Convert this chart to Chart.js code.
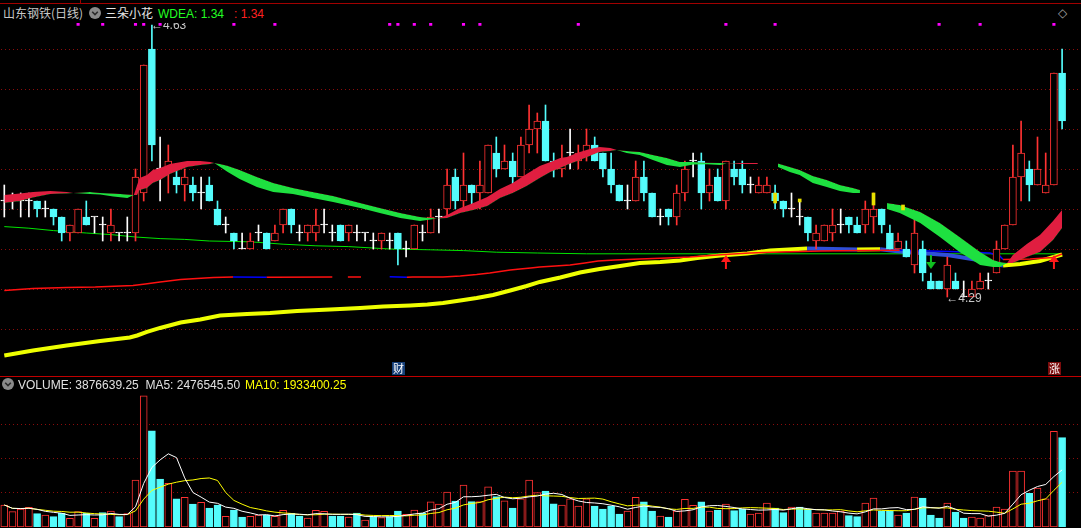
<!DOCTYPE html>
<html><head><meta charset="utf-8">
<script src="https://cdn.jsdelivr.net/npm/chart.js@4.4.0/dist/chart.umd.min.js"></script>
<style>
html,body{margin:0;padding:0;background:#000;width:1081px;height:528px;overflow:hidden;}
#wrap{position:relative;width:1081px;height:528px;background:#000;}
canvas{position:absolute;left:0;}
#pc{top:23px;}
#vc{top:377px;}
.t{position:absolute;font-family:"Liberation Sans",Arial,sans-serif;font-size:12px;white-space:pre;line-height:14px;}
.cjk{font-family:"Noto Sans CJK SC",sans-serif;}
.line{position:absolute;left:0;width:1081px;height:1px;}
.ico{position:absolute;width:12px;height:12px;}
</style></head><body>
<div id="wrap">
  <div class="line" style="top:3px;background:#a00000"></div>
  <div style="position:absolute;left:80px;top:0;width:1px;height:3px;background:#a00000"></div>
  <div class="t cjk" style="left:3px;top:6px;color:#c8c8c8">山东钢铁(日线)</div>
  <svg class="ico" style="left:89px;top:7px" viewBox="0 0 12 12"><circle cx="6" cy="6" r="6" fill="#8a8a8a"/><path d="M3.2 4.8 L6 7.6 L8.8 4.8" stroke="#2a2a2a" stroke-width="1.6" fill="none"/></svg>
  <div class="t cjk" style="left:105px;top:6px;color:#e6e6e6">三朵小花</div>
  <div class="t" style="left:158px;top:7px;color:#22ff22">WDEA: 1.34</div>
  <div class="t" style="left:234px;top:7px;color:#ff2020">: 1.34</div>
  <div class="t" style="left:1058px;top:6px;color:#a0a0a0">◇</div>
  <canvas id="pc" width="1081" height="353"></canvas>
  <div class="line" style="top:376px;background:#c00000"></div>
  <canvas id="vc" width="1081" height="151"></canvas>
  <svg class="ico" style="left:2px;top:378px" viewBox="0 0 12 12"><circle cx="6" cy="6" r="6" fill="#8a8a8a"/><path d="M3.2 4.8 L6 7.6 L8.8 4.8" stroke="#2a2a2a" stroke-width="1.6" fill="none"/></svg>
  <div class="t" style="left:18px;top:378px;color:#e0e0e0">VOLUME: 3876639.25  MA5: 2476545.50</div>
  <div class="t" style="left:245px;top:378px;color:#ffff00">MA10: 1933400.25</div>
</div>
<script>
// ---------------- DATA ----------------
const openP = [
4.41,4.41,4.41,4.41,4.41,4.40,4.40,4.39,4.37,4.37,
4.39,4.39,4.38,4.37,4.37,4.37,4.37,4.42,4.60,4.45,
4.45,4.44,4.43,4.43,4.42,4.43,4.40,4.38,4.37,4.35,
4.35,4.37,4.37,4.36,4.38,4.40,4.37,4.37,4.37,4.38,
4.37,4.38,4.37,4.37,4.37,4.36,4.36,4.36,4.37,4.35,
4.35,4.37,4.37,4.39,4.40,4.44,4.41,4.43,4.42,4.42,
4.47,4.45,4.46,4.44,4.48,4.50,4.51,4.46,4.45,4.47,
4.46,4.47,4.48,4.47,4.45,4.43,4.41,4.41,4.44,4.42,
4.39,4.40,4.39,4.42,4.46,4.46,4.42,4.44,4.41,4.45,
4.45,4.43,4.42,4.42,4.42,4.41,4.40,4.39,4.39,4.36,
4.36,4.37,4.38,4.39,4.38,4.38,4.39,4.40,4.37,4.35,
4.35,4.33,4.35,4.31,4.31,4.30,4.31,4.29,4.29,4.30,
4.31,4.32,4.35,4.38,4.44,4.45,4.43,4.42,4.43,4.57];
const highP = [
4.43,4.42,4.42,4.42,4.41,4.41,4.40,4.39,4.38,4.40,
4.41,4.39,4.39,4.40,4.37,4.39,4.45,4.58,4.63,4.49,
4.48,4.45,4.45,4.44,4.44,4.44,4.41,4.39,4.37,4.37,
4.37,4.38,4.37,4.38,4.40,4.40,4.38,4.38,4.40,4.40,
4.38,4.38,4.38,4.38,4.37,4.37,4.37,4.37,4.37,4.36,
4.38,4.38,4.40,4.40,4.45,4.45,4.47,4.43,4.46,4.48,
4.49,4.48,4.47,4.49,4.53,4.52,4.53,4.47,4.48,4.50,
4.48,4.50,4.49,4.47,4.47,4.43,4.43,4.46,4.46,4.42,
4.40,4.40,4.43,4.46,4.47,4.47,4.45,4.45,4.46,4.46,
4.46,4.44,4.44,4.44,4.43,4.41,4.42,4.41,4.39,4.38,
4.38,4.40,4.40,4.39,4.39,4.41,4.42,4.40,4.38,4.37,
4.36,4.39,4.36,4.32,4.31,4.34,4.32,4.31,4.31,4.32,
4.32,4.36,4.38,4.48,4.51,4.46,4.49,4.47,4.57,4.60];
const lowP = [
4.39,4.40,4.39,4.39,4.39,4.39,4.38,4.36,4.36,4.37,
4.38,4.37,4.36,4.36,4.36,4.36,4.36,4.41,4.46,4.41,
4.42,4.42,4.41,4.41,4.40,4.41,4.38,4.37,4.35,4.35,
4.35,4.36,4.35,4.36,4.37,4.37,4.36,4.36,4.36,4.37,
4.36,4.36,4.36,4.36,4.36,4.35,4.35,4.35,4.33,4.34,
4.35,4.36,4.37,4.37,4.39,4.40,4.40,4.40,4.40,4.42,
4.44,4.45,4.43,4.44,4.47,4.47,4.46,4.44,4.44,4.45,
4.45,4.46,4.46,4.44,4.42,4.41,4.40,4.41,4.41,4.39,
4.38,4.38,4.38,4.41,4.44,4.40,4.41,4.41,4.40,4.43,
4.42,4.42,4.42,4.42,4.40,4.39,4.39,4.38,4.36,4.35,
4.36,4.36,4.37,4.37,4.37,4.37,4.37,4.37,4.35,4.35,
4.34,4.32,4.31,4.30,4.30,4.29,4.30,4.29,4.29,4.30,
4.30,4.32,4.35,4.38,4.41,4.41,4.43,4.42,4.43,4.50];
const closeP = [
4.41,4.41,4.41,4.41,4.40,4.40,4.39,4.37,4.38,4.40,
4.38,4.39,4.38,4.38,4.37,4.37,4.44,4.58,4.48,4.45,
4.46,4.43,4.44,4.42,4.42,4.41,4.38,4.38,4.36,4.35,
4.36,4.37,4.35,4.37,4.40,4.38,4.37,4.38,4.38,4.38,
4.37,4.36,4.38,4.37,4.37,4.36,4.37,4.36,4.35,4.35,
4.38,4.37,4.39,4.39,4.43,4.41,4.43,4.42,4.43,4.48,
4.45,4.46,4.44,4.48,4.50,4.51,4.46,4.45,4.46,4.47,
4.47,4.48,4.46,4.45,4.43,4.41,4.41,4.44,4.42,4.39,
4.39,4.39,4.42,4.45,4.46,4.42,4.43,4.41,4.46,4.44,
4.43,4.43,4.43,4.43,4.41,4.40,4.40,4.39,4.37,4.37,
4.38,4.38,4.38,4.38,4.37,4.40,4.40,4.38,4.35,4.36,
4.34,4.37,4.32,4.30,4.30,4.33,4.30,4.29,4.30,4.31,
4.31,4.35,4.38,4.44,4.47,4.43,4.45,4.43,4.57,4.51];
const volume = [
955000,665000,781000,853000,579000,521000,448000,593000,376000,666000,
593000,376000,622000,694000,448000,579000,2040000,5690000,4170000,2080000,
1900000,1220000,1290000,1000000,1070000,825000,955000,463000,738000,434000,
463000,521000,521000,463000,723000,593000,477000,390000,723000,680000,
477000,477000,434000,608000,304000,448000,405000,448000,694000,550000,
738000,593000,1090000,1000000,1520000,1130000,1820000,1100000,1100000,1740000,
1320000,1140000,825000,1220000,2040000,1490000,1560000,1010000,955000,1220000,
911000,1220000,911000,781000,911000,564000,694000,1290000,1090000,694000,
477000,434000,694000,1200000,940000,1090000,694000,738000,1000000,709000,
781000,564000,608000,1040000,825000,622000,868000,868000,781000,608000,
608000,608000,694000,492000,448000,1040000,1260000,694000,694000,521000,
608000,1300000,1260000,521000,390000,1040000,651000,390000,434000,390000,
492000,868000,781000,2430000,2430000,1460000,1690000,1220000,4150000,3876639];

// ribbon (三朵小花 band): fast / slow lines, null = gap
const ribbonIdx = [0,1.9,3.5,5.6,7.6,8.4,10.45,11.7,13.3,15,15.8,16.2,16.5,17.4,18.1,19,20.2,22.3,23.9,25.1,25.6,26.3,27.2,28.7,30.8,32.8,35.2,37.6,40.1,43.4,45.8,48.3,50.7,52.8,54,55.6,57.2,58.9,60.45,62,63.7,65.3,66.6,67.8,68.6,70.2,71.4,72.6,73.9,74.7,75.9,77.5,79.1,80.8,82.4,84,85.7,87.3,88.1,89.7,91.9,93,94.35,95.8,97,98.6,100.3,101.9,103.5,104.35,106,107.65,109.2,111.7,114.1,116.5,119,120.6,121.4,122.3,123,124.7,126.3,127.9,129];
const ribbonFast = [4.4175,4.4194,4.4213,4.4225,4.4213,4.42,4.4188,4.4181,4.4156,4.4138,4.4175,4.43,4.4388,4.4425,4.4488,4.4513,4.4563,4.46,4.46,4.4588,4.4575,4.4529,4.4466,4.4375,4.4275,4.4213,4.4188,4.4138,4.4088,4.4013,4.395,4.3888,4.385,4.3881,4.3925,4.4013,4.4075,4.415,4.425,4.4325,4.4438,4.4538,4.4588,4.4638,4.465,4.4713,4.475,4.4775,4.4763,4.4738,4.47,4.4675,4.4613,4.455,4.4525,4.4556,4.4559,4.455,4.4569,4.4575,4.4575,null,4.4525,4.4463,4.4425,4.4325,4.4275,4.4225,4.42,4.42,null,4.40,4.395,4.3825,4.365,4.3463,4.33,4.3275,4.3275,4.3325,4.3425,4.3563,4.3675,4.385,4.3988];
const ribbonSlow = [4.4075,4.41,4.4144,4.4188,4.4194,4.42,4.4213,4.42,4.4194,4.4181,4.4175,4.4175,4.4238,4.4263,4.4325,4.4363,4.4438,4.4525,4.455,4.4563,4.4575,4.4563,4.4541,4.4488,4.44,4.4325,4.4263,4.4213,4.4163,4.4075,4.4013,4.395,4.39,4.3881,4.3888,4.395,4.3988,4.4038,4.4138,4.42,4.4288,4.4388,4.4463,4.4513,4.455,4.4613,4.4663,4.4713,4.4725,4.4738,4.4725,4.4713,4.4675,4.4638,4.4588,4.4588,4.4579,4.4575,4.4569,4.4563,4.4563,null,4.4569,4.4525,4.4488,4.4413,4.4363,4.43,4.4263,4.4238,null,4.4075,4.405,4.3963,4.3825,4.365,4.3463,4.3363,4.3338,4.3325,4.3325,4.34,4.3463,4.3613,4.3763];

// long moving averages
const maGreenIdx = [0,3,6,10,13,16,19,22,25,30,34,38,42,47,52,56,60,65,71,87,129];
const maGreenVal = [4.378,4.376,4.373,4.370,4.368,4.365,4.363,4.362,4.360,4.359,4.356,4.354,4.353,4.350,4.349,4.348,4.346,4.345,4.344,4.344,4.344];
const maThinIdx = [0,3.5,7.6,11.1,15.7,17.2,19,21.5,25.5,27.9,32,32.9,40,41,41.9,43.5,45,47,49.1,49.8,53.5,55.6,57.6,59.2,60.45,61.7,62.9,64.2,65.3,67.2,69,70.8,72.4,74.5,77.5,80.8,83.6,86.1,87.9,90.9,94.6,99.5,104.4,109.2,115.3,120.2,121.4,121.8,125.1,127.9,129];
const maThinVal = [4.2981,4.3006,4.3019,4.3025,4.3044,4.3063,4.3088,4.3119,4.3144,4.315,4.3146,4.3147,4.315,null,4.315,4.315,null,4.3152,4.3147,4.3149,4.315,4.3163,4.3181,4.32,4.3219,4.3238,4.325,4.3263,4.3275,4.3288,4.33,4.3325,4.335,4.3363,4.3375,4.3388,4.34,4.3419,4.3431,4.345,4.3463,4.3475,4.3481,4.3484,4.3469,4.345,4.3413,4.3369,4.3375,4.3394,4.3438];
const maThickIdx = [0,3.5,7.6,11.7,15.3,16.2,17.4,19,21.5,23.9,26.3,29.6,32.4,35.7,39.7,43.4,46.2,49.5,51.6,53.5,55.6,57.6,59.6,61.7,63.7,65.3,67.8,70.2,72.6,75.1,77.5,80,82.4,84.5,87.3,90.6,93.4,97.9,104,106.8,109.2,115,118.4,121.8,123.9,126.3,129];
const maThickVal = [4.2169,4.2231,4.2294,4.235,4.2394,4.2419,4.2463,4.2513,4.2581,4.2619,4.2669,4.2688,4.27,4.2725,4.2744,4.2763,4.2781,4.2794,4.2806,4.2825,4.2856,4.2888,4.2925,4.2981,4.3038,4.3088,4.3144,4.3206,4.325,4.3288,4.3325,4.3338,4.3356,4.3388,4.3419,4.3444,4.3481,4.3506,4.3494,4.3496,4.3469,4.3425,4.3369,4.3294,4.3313,4.335,4.3431];

// signals
const dotIdx = [9,12,16,17,19,28,33,47,48,50,52,56,58,70,88,94,114,119,128];
const dotVal = 4.631;
const upSignalIdx = [88,128];
const upSignalVal = [4.3338,4.3338];
const downSignalIdx = [113];
const downSignalVal = [4.3338];
const flowerIdx = [94,97,106,109.6];
const flowerLow = [4.4075,4.4088,4.405,4.3988];
const flowerHigh = [4.42,4.4125,4.42,4.405];
const eventIdx = [48,128];
const eventText = ['财','涨'];

const priceGrid = [4.25,4.30,4.35,4.40,4.45,4.50,4.55,4.60];
const volumeGrid = [1519000,2994600,4470200];

// ---------------- LAYOUT / STYLE ----------------
const W = 1081, BAR_STEP = 8.2, FIRST_X = 4.3;
const xMin = -FIRST_X / BAR_STEP, xMax = xMin + W / BAR_STEP;
const RED = '#ff3232', CYAN = '#54fcfc', WHITE = '#ffffff';
const GRID = '#8c0c0c';

const N = openP.length;
const idx = openP.map((_, i) => i);
const kind = idx.map(i => closeP[i] > openP[i] ? 'up' : closeP[i] < openP[i] ? 'down' : 'flat');
const kColor = {up: RED, down: CYAN, flat: WHITE};
const volUp = idx.map(i => closeP[i] > openP[i] || (closeP[i] === openP[i] && (i === 0 || closeP[i] >= closeP[i - 1])));
const pts = (xs, ys) => xs.map((x, k) => ({x, y: Array.isArray(ys) ? ys[k] : ys}));

function movingAvg(arr, n) {
  return arr.map((_, i) => { const s = Math.max(0, i - n + 1); let t = 0; for (let k = s; k <= i; k++) t += arr[k]; return t / (i - s + 1); });
}

function arrowImg(color, up) {
  const c = document.createElement('canvas'); c.width = 10; c.height = 14;
  const g = c.getContext('2d'); g.fillStyle = color; g.beginPath();
  if (up) { g.moveTo(5, 0); g.lineTo(10, 7); g.lineTo(0, 7); g.closePath(); g.fill(); g.fillRect(4, 7, 2, 7); }
  else { g.moveTo(5, 14); g.lineTo(10, 7); g.lineTo(0, 7); g.closePath(); g.fill(); g.fillRect(4, 0, 2, 7); }
  return c;
}

const gridPlugin = {
  id: 'dotGrid',
  beforeDatasetsDraw(chart, args, opts) {
    const {ctx, chartArea} = chart; const ys = chart.scales.y;
    ctx.save(); ctx.strokeStyle = GRID; ctx.lineWidth = 1; ctx.setLineDash([1, 3]);
    for (const v of opts.values) {
      const y = Math.round(ys.getPixelForValue(v)) + 0.5;
      ctx.beginPath(); ctx.moveTo(chartArea.left + 1, y); ctx.lineTo(chartArea.right, y); ctx.stroke();
    }
    ctx.restore();
  }
};

const annotPlugin = {
  id: 'annot',
  afterDatasetsDraw(chart) {
    const {ctx, chartArea} = chart; const xs = chart.scales.x, ys = chart.scales.y;
    ctx.save();
    ctx.beginPath(); ctx.rect(chartArea.left, chartArea.top, chartArea.width, chartArea.height); ctx.clip();
    ctx.font = '12px "Liberation Sans", Arial, sans-serif'; ctx.fillStyle = '#c8c8c8'; ctx.textBaseline = 'middle'; ctx.textAlign = 'left';
    let hi = 0, lo = 0;
    for (let i = 1; i < N; i++) { if (highP[i] > highP[hi]) hi = i; if (lowP[i] < lowP[lo]) lo = i; }
    ctx.fillText('\u2190' + highP[hi].toFixed(2), xs.getPixelForValue(hi) - 1, ys.getPixelForValue(highP[hi]) + 1);
    ctx.fillText('\u2190' + lowP[lo].toFixed(2), xs.getPixelForValue(lo) - 1, ys.getPixelForValue(lowP[lo]) + 2);
    eventIdx.forEach((ei, k) => {
      const cx = Math.round(xs.getPixelForValue(ei));
      const top = chartArea.bottom - 14;
      ctx.fillStyle = eventText[k] === '财' ? '#163f78' : '#7c0c0c';
      ctx.fillRect(cx - 6, top, 13, 13);
      ctx.fillStyle = '#ffffff'; ctx.font = '11px "Noto Sans CJK SC", sans-serif'; ctx.textAlign = 'center';
      ctx.fillText(eventText[k], cx + 0.5, top + 7);
    });
    ctx.restore();
  }
};

const barCommon = {type: 'bar', grouped: false, borderSkipped: false};

// ---------------- PRICE CHART ----------------
new Chart(document.getElementById('pc'), {
  type: 'bar',
  data: {
    datasets: [
      {type: 'line', data: pts(maGreenIdx, maGreenVal), borderColor: '#00e600', borderWidth: 1, pointRadius: 0, tension: 0, order: 9},
      {type: 'line', data: pts(maThickIdx, maThickVal), borderWidth: 4, pointRadius: 0, tension: 0, order: 8,
        borderColor: '#eeff00', segment: {borderColor: c => c.p1.parsed.y < c.p0.parsed.y ? '#2f4fd8' : '#eeff00'}},
      {type: 'line', data: pts(maThinIdx, maThinVal), borderWidth: 1.5, pointRadius: 0, tension: 0, spanGaps: false, order: 7,
        borderColor: '#ff1010', segment: {borderColor: c => c.p1.parsed.y < c.p0.parsed.y ? '#0000ff' : '#ff1010'}},
      Object.assign({}, barCommon, {data: idx.map(i => ({x: i, y: [lowP[i], highP[i]]})), barThickness: 1,
        backgroundColor: idx.map(i => kColor[kind[i]]), borderWidth: 0, order: 6}),
      Object.assign({}, barCommon, {data: idx.map(i => ({x: i, y: [openP[i], closeP[i]]})), barThickness: 7, minBarLength: 1,
        backgroundColor: idx.map(i => kind[i] === 'up' ? '#000000' : kColor[kind[i]]),
        borderColor: idx.map(i => kColor[kind[i]]), borderWidth: 1, order: 5}),
      {type: 'line', data: pts(ribbonIdx, ribbonFast), borderColor: 'rgba(0,0,0,0)', borderWidth: 1, pointRadius: 0, tension: 0, spanGaps: false,
        fill: {target: '+1', above: '#e01e40', below: '#1ee040'}, order: 3},
      {type: 'line', data: pts(ribbonIdx, ribbonSlow), borderColor: 'rgba(0,0,0,0)', borderWidth: 1, pointRadius: 0, tension: 0, spanGaps: false, fill: false, order: 4},
      Object.assign({}, barCommon, {data: flowerIdx.map((x, k) => ({x, y: [flowerLow[k], flowerHigh[k]]})), barThickness: 3,
        backgroundColor: '#e8e000', borderWidth: 0, order: 2}),
      {type: 'line', data: pts(dotIdx, dotVal), showLine: false, pointStyle: 'rect', pointRadius: 2.2, pointBackgroundColor: '#ff00ff', pointBorderWidth: 0, clip: false, order: 1},
      {type: 'line', data: pts(upSignalIdx, upSignalVal), showLine: false, pointStyle: arrowImg('#ff1a1a', true), clip: false, order: 1},
      {type: 'line', data: pts(downSignalIdx, downSignalVal), showLine: false, pointStyle: arrowImg('#10c020', false), clip: false, order: 1}
    ]
  },
  options: {
    responsive: false, animation: false, events: [],
    layout: {padding: 0, autoPadding: false},
    plugins: {legend: {display: false}, tooltip: {enabled: false}, dotGrid: {values: priceGrid}},
    scales: {
      x: {type: 'linear', min: xMin, max: xMax, display: false, offset: false},
      y: {type: 'linear', min: 4.19125, max: 4.6325, display: false}
    }
  },
  plugins: [gridPlugin, annotPlugin]
});

// ---------------- VOLUME CHART ----------------
const ma5 = movingAvg(volume, 5), ma10 = movingAvg(volume, 10);
new Chart(document.getElementById('vc'), {
  type: 'bar',
  data: {
    datasets: [
      Object.assign({}, barCommon, {data: pts(idx, volume), barThickness: 7,
        backgroundColor: idx.map(i => volUp[i] ? '#000000' : CYAN), borderColor: idx.map(i => volUp[i] ? RED : CYAN), borderWidth: 1, order: 3}),
      {type: 'line', data: pts(idx, ma5), borderColor: '#ffffff', borderWidth: 1, pointRadius: 0, tension: 0, order: 1},
      {type: 'line', data: pts(idx, ma10), borderColor: '#ffff00', borderWidth: 1, pointRadius: 0, tension: 0, order: 2}
    ]
  },
  options: {
    responsive: false, animation: false, events: [],
    layout: {padding: {bottom: 1}, autoPadding: false},
    plugins: {legend: {display: false}, tooltip: {enabled: false}, dotGrid: {values: volumeGrid}},
    scales: {
      x: {type: 'linear', min: xMin, max: xMax, display: false, offset: false},
      y: {type: 'linear', min: 0, max: 6510000, display: false}
    }
  },
  plugins: [gridPlugin]
});
</script>
</body></html>
